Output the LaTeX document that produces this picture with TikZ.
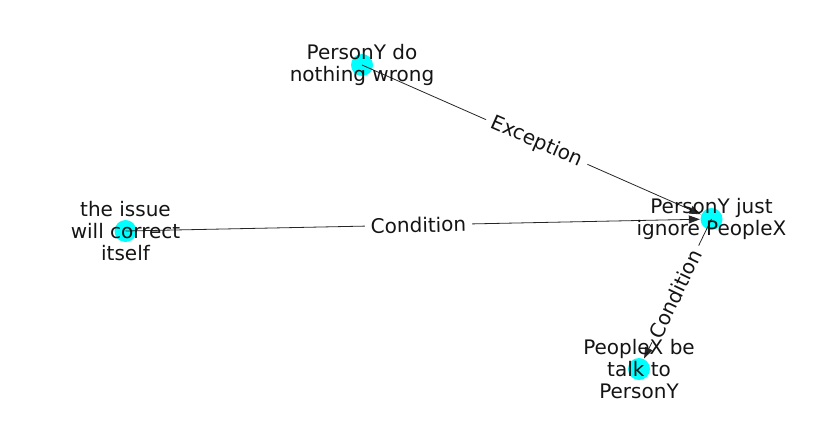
\documentclass[tikz,border=0pt]{standalone}
\usepackage{fontspec}
\setmainfont{DejaVu Sans}
\usetikzlibrary{arrows.meta,calc}
\definecolor{nodecyan}{RGB}{0,255,255}
\definecolor{txt}{RGB}{20,20,20}
\begin{document}
\begin{tikzpicture}[x=1pt,y=-1pt,
  dot/.style={circle,fill=nodecyan,draw=none,minimum size=22pt,inner sep=0pt},
  lbl/.style={text=txt,align=center,inner sep=0pt,font=\fontsize{20}{22}\selectfont},
  edge/.style={draw=black!85,line width=0.8pt,-{Triangle[length=11pt,width=8pt]},shorten >=0.5pt},
  elbl/.style={fill=white,text=txt,inner xsep=6pt,inner ysep=3pt,font=\fontsize{20}{22}\selectfont}]
\useasboundingbox (0,0) rectangle (837,434);
\node[dot] (a) at (362,65) {};
\node[dot] (b) at (125.5,231) {};
\node[dot] (c) at (711.5,219) {};
\node[dot] (d) at (639,369) {};
\draw[edge] (a.center) -- (c);
\draw[edge] (b.center) -- (c);
\draw[edge] (c.center) -- (d);
\node[elbl,rotate=-23.8] (e1) at ($(a)!0.5!(c)$) {Exception};
\node[elbl,rotate=1.2] (e2) at ($(b)!0.5!(c)$) {Condition};
\node[elbl,rotate=64.4] (e3) at ($(c)!0.5!(d)$) {Condition};
\node[lbl] (la) at (362,65) {PersonY do\\nothing wrong};
\node[lbl] (lb) at (125.5,231) {the issue\\will correct\\itself};
\node[lbl] (lc) at (711.5,219) {PersonY just\\ignore PeopleX};
\node[lbl] (ld) at (639,369) {PeopleX be\\talk to\\PersonY};
\end{tikzpicture}
\end{document}
